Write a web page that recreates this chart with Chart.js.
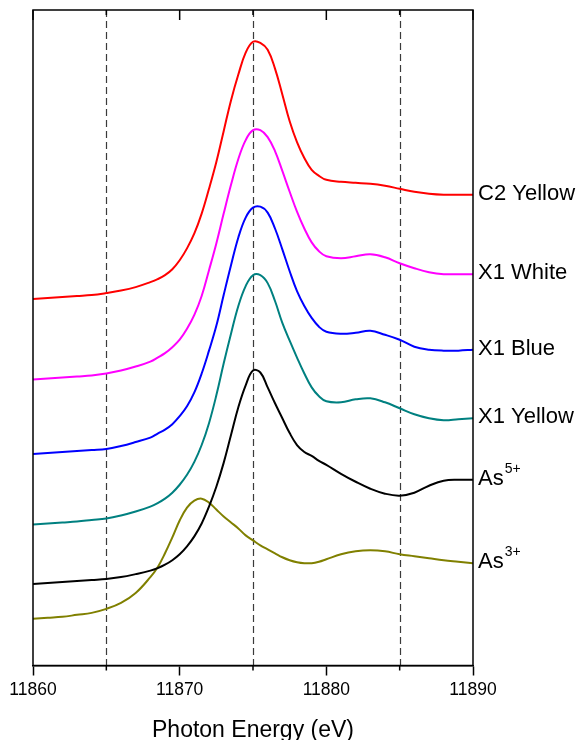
<!DOCTYPE html>
<html><head><meta charset="utf-8">
<script src="https://cdn.jsdelivr.net/npm/chart.js@4.4.1/dist/chart.umd.min.js"></script>
<style>html,body{margin:0;padding:0;background:#fff}</style>
</head><body>
<canvas id="c" width="584" height="740"></canvas>
<script>
// Photon energy grid (eV)
const energy = [11860,11861,11862,11863,11864,11865,11866,11867,11868,11868.5,11869,11869.5,11870,11870.5,11871,11871.5,11872,11872.5,11873,11873.5,11874,11874.5,11875,11875.5,11876,11876.5,11877,11877.5,11878,11878.5,11879,11879.5,11880,11881,11882,11883,11884,11885,11886,11887,11888,11889,11890];

// Offset normalized absorbance (arbitrary units x100)
const c2Yellow = [369,370,371,372,373,375,377.5,381,386,389,393,399,408,420,435,455,480,507,538,569,595,617,628,627,620,601,575,548,527,511,499,493,489,487,486,485,483,480,477,475,474,474,474];
const x1White  = [288,289,290,291,292,294,297,301,306,310,314.5,320.5,328,339,353,372,398,425,455,484,510,529,539,539,532,518,498,477,457,440,426,417,412,410,412,414,411,405,400,396,394,394,394];
const x1Blue   = [213,214,215,216,217,218,221,225,229.5,233.5,237.5,243,251,261,275,294,317,342,373,403,431,451,461,462,456,440,419,397,377,362,350,341,336,334,335,337,333,328,321,318,317,317,318];
const x1Yellow = [142,143,144,145,146.5,148,151,155,160,163.5,168,174,182,192,205,222,244,272,304,334,362,382,393,393,385,367,345,327,310,294,280,271,266,265,268,269,265,259,253,249,247,248,249];
const as5      = [82,83,84,85,86,87,89,92,95.5,98,101.5,106,112,120,130,143,160,180,204,232,260,282,297,295,280,264,249,234,222,215,211,206,202,193,185,178,173,171,174,181,186,187,187];
const as3      = [47,48,49,51,53,57,63,73,89,99,113,129,146,159,166,168,164,157,150,144,138,131,126,121,117,113,109,106,104,103,103,104.5,107,112,115,116,115,112,110,108,106,104.5,103];

const seriesNames  = ['C2 Yellow','X1 White','X1 Blue','X1 Yellow','As','As'];
const seriesSup    = ['','','','','5+','3+'];
const seriesColors = ['#ff0000','#ff00ff','#0000ff','#008080','#000000','#808000'];
const seriesValues = [c2Yellow, x1White, x1Blue, x1Yellow, as5, as3];

const xMin = 11860, xMax = 11890;
const majorTicks = [11860,11870,11880,11890];
const minorTicks = [11865,11875,11885];
const refLines   = [11865,11875,11885];
const xTitle = 'Photon Energy (eV)';

const FONT = "'Liberation Sans', Arial, sans-serif";

const datasets = seriesValues.map((vals, k) => ({
  label: seriesNames[k] + seriesSup[k],
  data: energy.map((e, i) => ({x: e, y: vals[i]})),
  borderColor: seriesColors[k],
  borderWidth: 2,
  pointRadius: 0,
  fill: false,
  tension: 0.4
}));

const framePlugin = {
  id: 'frame',
  beforeDatasetsDraw(chart) {
    const {ctx, chartArea: a, scales: {x}} = chart;
    ctx.save();
    ctx.strokeStyle = '#3a3a3a';
    ctx.lineWidth = 1.2;
    ctx.setLineDash([7, 4]);
    refLines.forEach(v => {
      const px = Math.round(x.getPixelForValue(v)) + 0.5;
      ctx.beginPath(); ctx.moveTo(px, a.top); ctx.lineTo(px, a.bottom); ctx.stroke();
    });
    ctx.restore();
  },
  afterDraw(chart) {
    const {ctx, chartArea: a, scales: {x, y}} = chart;
    ctx.save();
    ctx.strokeStyle = '#000';
    ctx.lineWidth = 1.5;
    ctx.setLineDash([]);
    ctx.strokeRect(a.left, a.top, a.right - a.left, a.bottom - a.top);
    majorTicks.forEach(v => {
      const px = x.getPixelForValue(v);
      ctx.beginPath(); ctx.moveTo(px, a.top); ctx.lineTo(px, a.top + 10); ctx.stroke();
    });
    minorTicks.forEach(v => {
      const px = x.getPixelForValue(v);
      ctx.beginPath(); ctx.moveTo(px, a.bottom); ctx.lineTo(px, a.bottom + 5); ctx.stroke();
      ctx.beginPath(); ctx.moveTo(px, a.top); ctx.lineTo(px, a.top + 5); ctx.stroke();
    });
    ctx.fillStyle = '#000';
    ctx.textBaseline = 'middle';
    ctx.textAlign = 'left';
    seriesValues.forEach((vals, k) => {
      const py = y.getPixelForValue(vals[vals.length - 1]) - 1;
      const lx = a.right + 5;
      ctx.font = '22px ' + FONT;
      ctx.fillText(seriesNames[k], lx, py);
      if (seriesSup[k]) {
        const w = ctx.measureText(seriesNames[k]).width;
        ctx.font = '14px ' + FONT;
        ctx.fillText(seriesSup[k], lx + w + 1, py - 10);
      }
    });
    ctx.restore();
  }
};

new Chart(document.getElementById('c'), {
  type: 'line',
  data: {datasets},
  options: {
    responsive: false,
    devicePixelRatio: 1,
    animation: false,
    layout: {padding: {left: 33, right: 111, top: 10, bottom: 0}},
    plugins: {legend: {display: false}, tooltip: {enabled: false}},
    scales: {
      x: {
        type: 'linear',
        position: 'bottom',
        min: xMin, max: xMax,
        afterBuildTicks(scale) { scale.ticks = majorTicks.map(v => ({value: v})); },
        ticks: {
          color: '#000', padding: 4, maxRotation: 0, autoSkip: false,
          font: {family: FONT, size: 17.5},
          callback: v => String(v)
        },
        grid: {drawOnChartArea: false, drawTicks: true, tickLength: 10, tickColor: '#000', tickWidth: 1.5, color: '#000'},
        border: {display: true, color: '#000', width: 1.5},
        title: {display: true, text: xTitle, color: '#000', font: {family: FONT, size: 23, lineHeight: 1}, padding: {top: 14.5, bottom: -2}}
      },
      y: {display: false, min: 0, max: 660}
    }
  },
  plugins: [framePlugin]
});
</script>
</body></html>
